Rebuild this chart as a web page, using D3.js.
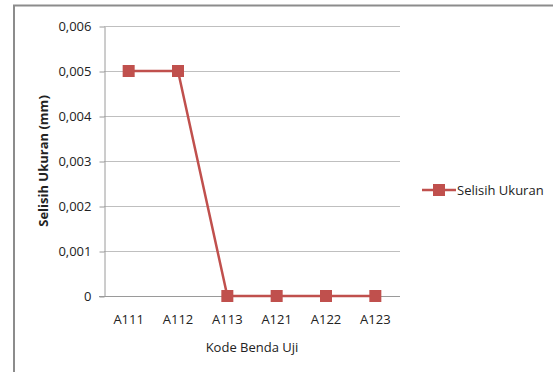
<!DOCTYPE html>
<html>
<head>
<meta charset="utf-8">
<script src="https://cdn.jsdelivr.net/npm/d3@7"></script>
<style>
  html, body { margin: 0; padding: 0; background: #fff; }
  svg { display: block; }
  text { font-family: "Open Sans", "Liberation Sans", sans-serif; fill: #222; }
</style>
</head>
<body>
<svg id="chart" width="553" height="372"></svg>
<script>
// Specimen codes and measured size differences (mm)
const categories = ["A111", "A112", "A113", "A121", "A122", "A123"];
const selisihUkuran = [0.005, 0.005, 0, 0, 0, 0];
const yTicks = [0, 0.001, 0.002, 0.003, 0.004, 0.005, 0.006];
const seriesName = "Selisih Ukuran";
const xTitle = "Kode Benda Uji";
const yTitle = "Selisih Ukuran (mm)";

const svg = d3.select("#chart");
const W = 553, H = 372;
const plot = { left: 104, right: 400, top: 26, bottom: 296 };
const red = "#C0504D";

// Outer chart frame (only left and top edges fall within view)
svg.append("path")
  .attr("d", `M14,${H} L14,5.5 L${W},5.5`)
  .attr("fill", "none").attr("stroke", "#8c8c8c").attr("stroke-width", 2);

const x = d3.scaleBand().domain(categories).range([plot.left, plot.right]);
const y = d3.scaleLinear().domain([0, 0.006]).range([plot.bottom, plot.top]);

const fmt = v => v === 0 ? "0" : d3.format(".3f")(v).replace(".", ",");

// Horizontal gridlines
svg.append("g").selectAll("line").data(yTicks.filter(t => t > 0)).join("line")
  .attr("x1", plot.left).attr("x2", plot.right)
  .attr("y1", d => Math.round(y(d)) + 0.5).attr("y2", d => Math.round(y(d)) + 0.5)
  .attr("stroke", "#bfbfbf").attr("stroke-width", 1);

// Y axis
const yAxis = svg.append("g").attr("transform", `translate(${plot.left + 0.5},0.5)`)
  .call(d3.axisLeft(y).tickValues(yTicks).tickFormat(fmt).tickSizeInner(5).tickSizeOuter(0).tickPadding(8));
yAxis.select(".domain").attr("stroke", "#9a9a9a");
yAxis.selectAll(".tick line").attr("stroke", "#9a9a9a");
yAxis.selectAll("text").attr("font-size", 13).attr("fill", "#222")
  .style("font-family", "'Open Sans', sans-serif");

// X axis
const xAxis = svg.append("g").attr("transform", `translate(0,${plot.bottom + 0.5})`)
  .call(d3.axisBottom(x).tickSize(0).tickPadding(18));
xAxis.select(".domain").attr("stroke", "#9a9a9a").attr("d", `M${plot.left - 5},0H${plot.right}`);
xAxis.selectAll("text").attr("font-size", 13).attr("fill", "#222")
  .style("font-family", "'Open Sans', sans-serif");

// Axis titles
svg.append("text")
  .attr("x", (plot.left + plot.right) / 2).attr("y", 352)
  .attr("text-anchor", "middle").attr("font-size", 13)
  .text(xTitle);
svg.append("text")
  .attr("transform", `translate(48,${(plot.top + plot.bottom) / 2}) rotate(-90)`)
  .attr("text-anchor", "middle").attr("font-size", 13).attr("font-weight", "bold")
  .text(yTitle);

// Series line and markers
const cx = d => x(d) + x.bandwidth() / 2;
const pts = categories.map((c, i) => [cx(c), y(selisihUkuran[i])]);
svg.append("path")
  .attr("d", d3.line()(pts))
  .attr("fill", "none").attr("stroke", red).attr("stroke-width", 2.5);
svg.append("g").selectAll("rect").data(pts).join("rect")
  .attr("x", d => d[0] - 6).attr("y", d => d[1] - 6)
  .attr("width", 12).attr("height", 12)
  .attr("fill", red);

// Legend
const lg = svg.append("g").attr("transform", "translate(422,190)");
lg.append("line").attr("x1", 0).attr("x2", 34).attr("y1", 0).attr("y2", 0)
  .attr("stroke", red).attr("stroke-width", 2.5);
lg.append("rect").attr("x", 11).attr("y", -6).attr("width", 12).attr("height", 12).attr("fill", red);
lg.append("text").attr("x", 35).attr("y", 5).attr("font-size", 13).text(seriesName);
</script>
</body>
</html>
